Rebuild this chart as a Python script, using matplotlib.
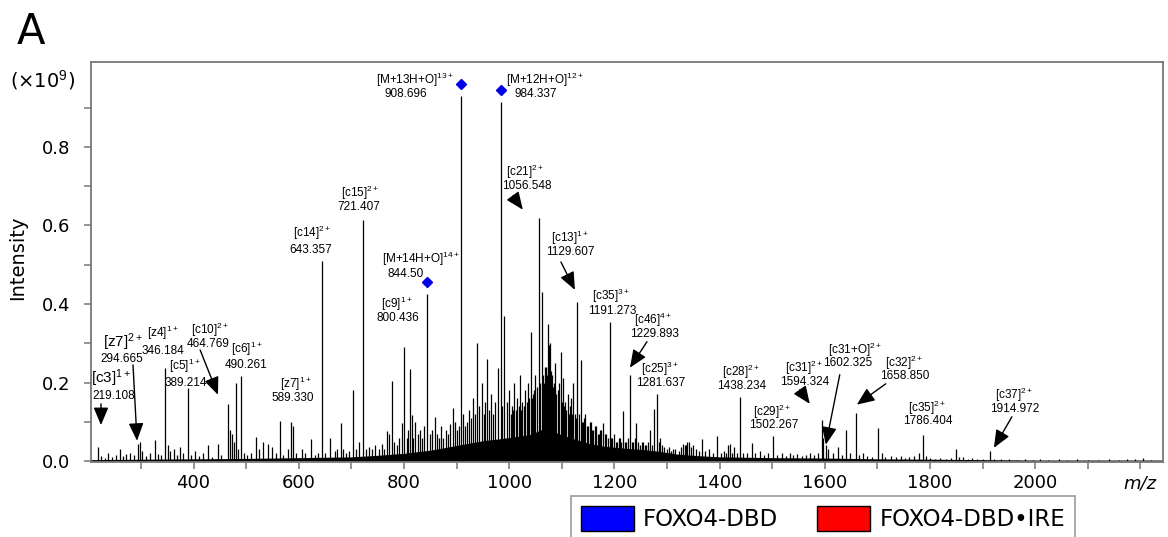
import numpy as np
import matplotlib.pyplot as plt
from matplotlib.patches import Patch

plt.rcParams['font.family'] = 'DejaVu Sans'
plt.rcParams['mathtext.fontset'] = 'custom'
plt.rcParams['mathtext.rm'] = 'Liberation Sans'
plt.rcParams['mathtext.it'] = 'Liberation Sans:italic'
plt.rcParams['mathtext.bf'] = 'Liberation Sans:bold'

# centroided peaks, intensity in units of 1e9 counts
low_mz = [219.108, 224, 231, 237, 245, 252, 260, 266, 272, 279,
          287, 294.665, 298, 302, 310, 318, 326.6, 333, 338, 346.184,
          351, 356, 362, 368, 374, 380, 389.214, 395, 403, 410,
          418, 428, 435, 446, 452, 464.769, 470, 473, 477, 480.5,
          484, 490.261, 495, 502, 510, 518.6, 525, 532, 541, 549,
          556, 564, 570, 580, 586, 589.330, 595, 606, 612, 623,
          630, 636, 643.357, 650, 660, 668, 673, 679.6, 685, 690,
          695, 702.5, 708, 714.5, 721.407, 727, 733, 740, 745, 752,
          758, 763, 767, 771.6, 777.8, 782, 786, 790, 795.6, 800.436,
          805, 808, 811.4, 814.6, 818, 821, 826, 830.4, 835, 838,
          844.50, 849.4]
low_int = [0.035, 0.012, 0.008, 0.02, 0.01, 0.015, 0.03, 0.012, 0.018, 0.022,
           0.015, 0.045, 0.05, 0.025, 0.012, 0.02, 0.055, 0.018, 0.015, 0.238,
           0.04, 0.025, 0.03, 0.015, 0.035, 0.02, 0.187, 0.015, 0.025, 0.012,
           0.02, 0.04, 0.01, 0.045, 0.015, 0.146, 0.08, 0.07, 0.05, 0.2,
           0.03, 0.217, 0.02, 0.015, 0.02, 0.062, 0.03, 0.05, 0.045, 0.035,
           0.02, 0.103, 0.015, 0.03, 0.1, 0.09, 0.02, 0.03, 0.02, 0.057,
           0.015, 0.02, 0.51, 0.02, 0.06, 0.025, 0.03, 0.098, 0.03, 0.02,
           0.025, 0.18, 0.03, 0.05, 0.614, 0.03, 0.035, 0.03, 0.04, 0.03,
           0.045, 0.03, 0.078, 0.07, 0.205, 0.05, 0.04, 0.06, 0.098, 0.291,
           0.06, 0.08, 0.235, 0.118, 0.06, 0.1, 0.07, 0.08, 0.06, 0.09,
           0.426, 0.07]

mid_mz = [853, 858.9, 863, 867, 871, 874.7, 880, 884, 887.5, 892.6,
          897, 901, 905, 908.696, 912, 916, 919, 923, 927, 931,
          935, 939, 943, 948, 952, 955, 958, 962, 966, 970,
          974, 979, 984.337, 987, 990.7, 995, 1000, 1003, 1005, 1008,
          1010, 1013, 1015, 1018, 1020, 1023, 1025, 1028, 1030, 1033,
          1036, 1038, 1041, 1044, 1046, 1048, 1050, 1053, 1056.548, 1059,
          1062, 1064, 1066, 1068, 1070, 1071.5, 1073, 1074.5, 1076, 1078,
          1079.5, 1081, 1083, 1085, 1087, 1088, 1090, 1092, 1095, 1098.5,
          1101, 1103, 1105, 1107, 1109, 1111, 1113, 1115, 1118, 1120,
          1122, 1125, 1127, 1129.607, 1132, 1136, 1138, 1140, 1143, 1145,
          1148, 1150, 1153, 1155, 1158, 1160, 1163, 1165, 1168, 1170,
          1173, 1175, 1179, 1182, 1185, 1188, 1191.273, 1194, 1196, 1200,
          1203, 1205, 1208, 1210, 1213, 1217, 1220, 1222, 1226, 1229.893,
          1233, 1236, 1239, 1242, 1245, 1248, 1252, 1255, 1258, 1260,
          1264, 1267.7, 1271, 1276, 1281.637, 1284, 1286.7, 1290, 1295]
mid_int = [0.08, 0.113, 0.07, 0.06, 0.09, 0.06, 0.08, 0.07, 0.095, 0.136,
           0.1, 0.08, 0.09, 0.929, 0.12, 0.09, 0.1, 0.13, 0.11, 0.16,
           0.12, 0.3, 0.14, 0.2, 0.12, 0.15, 0.26, 0.13, 0.17, 0.12,
           0.15, 0.237, 0.914, 0.14, 0.37, 0.15, 0.18, 0.12, 0.14, 0.13,
           0.2, 0.13, 0.16, 0.14, 0.22, 0.13, 0.15, 0.14, 0.18, 0.15,
           0.2, 0.16, 0.33, 0.16, 0.17, 0.18, 0.22, 0.19, 0.619, 0.2,
           0.43, 0.22, 0.2, 0.24, 0.24, 0.22, 0.35, 0.24, 0.296, 0.3,
           0.23, 0.22, 0.19, 0.2, 0.18, 0.25, 0.17, 0.18, 0.2, 0.278,
           0.15, 0.212, 0.14, 0.15, 0.13, 0.17, 0.12, 0.14, 0.16, 0.12,
           0.2, 0.12, 0.11, 0.405, 0.12, 0.258, 0.1, 0.1, 0.11, 0.12,
           0.09, 0.09, 0.1, 0.1, 0.08, 0.08, 0.09, 0.09, 0.07, 0.07,
           0.08, 0.08, 0.097, 0.07, 0.07, 0.06, 0.355, 0.06, 0.06, 0.07,
           0.05, 0.05, 0.06, 0.06, 0.05, 0.128, 0.05, 0.05, 0.06, 0.22,
           0.05, 0.05, 0.06, 0.097, 0.05, 0.04, 0.05, 0.05, 0.04, 0.04,
           0.05, 0.08, 0.04, 0.133, 0.172, 0.05, 0.06, 0.04, 0.035]

high_mz = [1300, 1304, 1308, 1312, 1316, 1322, 1326, 1330, 1334, 1336,
           1339, 1342, 1346, 1350, 1356, 1361, 1366, 1373, 1380, 1387,
           1394.5, 1402, 1408, 1413, 1416.6, 1420, 1424, 1428, 1433, 1438.234,
           1445, 1453, 1461, 1468, 1477, 1485, 1492, 1502.267, 1510, 1518,
           1526, 1533, 1540, 1548, 1556, 1565, 1572, 1580, 1587, 1594.324,
           1597, 1602.325, 1607, 1615, 1624.5, 1632, 1640, 1648, 1658.850, 1666,
           1673, 1680, 1690, 1700.5, 1708, 1715, 1725, 1735, 1745, 1752,
           1760, 1770, 1780, 1786.404, 1792, 1800, 1810, 1820, 1830, 1840,
           1850, 1856, 1863, 1872, 1880, 1890, 1900, 1914.972, 1922, 1935,
           1950, 1965, 1980, 1995, 2010, 2025, 2045, 2060, 2080, 2100,
           2120, 2140, 2160, 2174, 2190, 2205, 2220]
high_int = [0.03, 0.035, 0.025, 0.03, 0.03, 0.025, 0.035, 0.045, 0.04, 0.04,
            0.05, 0.05, 0.035, 0.04, 0.03, 0.025, 0.057, 0.025, 0.03, 0.02,
            0.065, 0.02, 0.025, 0.02, 0.04, 0.045, 0.02, 0.035, 0.02, 0.164,
            0.02, 0.02, 0.047, 0.02, 0.025, 0.015, 0.02, 0.065, 0.015, 0.02,
            0.012, 0.02, 0.015, 0.018, 0.012, 0.015, 0.02, 0.015, 0.02, 0.105,
            0.06, 0.04, 0.03, 0.02, 0.037, 0.015, 0.08, 0.02, 0.123, 0.015,
            0.02, 0.012, 0.01, 0.085, 0.02, 0.01, 0.012, 0.01, 0.012, 0.008,
            0.01, 0.012, 0.02, 0.067, 0.012, 0.008, 0.006, 0.008, 0.006, 0.008,
            0.031, 0.01, 0.01, 0.006, 0.008, 0.005, 0.006, 0.025, 0.006, 0.005,
            0.006, 0.004, 0.005, 0.004, 0.006, 0.004, 0.005, 0.004, 0.005, 0.004,
            0.004, 0.005, 0.004, 0.006, 0.005, 0.008, 0.004]

# unresolved background under the peaks
bg_mz = [205, 300, 400, 500, 600, 700, 750, 800, 850, 900, 950, 1000, 1040,
         1070, 1090, 1120, 1150, 1180, 1220, 1250, 1280, 1320, 1360, 1400,
         1500, 1600, 1700, 1800, 1900, 2000, 2245]
bg_int = [0.004, 0.005, 0.006, 0.007, 0.009, 0.011, 0.015, 0.02, 0.028, 0.04,
          0.052, 0.06, 0.068, 0.085, 0.072, 0.058, 0.046, 0.038, 0.033, 0.03,
          0.026, 0.018, 0.014, 0.011, 0.009, 0.008, 0.006, 0.005, 0.004, 0.003,
          0.003]

# intact FOXO4-DBD charge states (blue diamonds)
intact_mz = [844.50, 908.696, 984.337]

# fragment / intact ion annotations
ion_names = ['[c3]', '[z7]', '[z4]', '[c5]', '[c10]', '[c6]', '[z7]', '[c14]',
             '[c15]', '[c9]', '[M+14H+O]', '[M+13H+O]', '[M+12H+O]', '[c21]',
             '[c13]', '[c35]', '[c46]', '[c25]', '[c28]', '[c29]', '[c31]',
             '[c31+O]', '[c32]', '[c35]', '[c37]']
ion_charges = ['1+', '2+', '1+', '1+', '2+', '1+', '1+', '2+', '2+', '1+', '14+',
               '13+', '12+', '2+', '1+', '3+', '4+', '3+', '2+', '2+', '2+', '2+',
               '2+', '2+', '2+']
ion_values = ['219.108', '294.665', '346.184', '389.214', '464.769', '490.261',
              '589.330', '643.357', '721.407', '800.436', '844.50', '908.696',
              '984.337', '1056.548', '1129.607', '1191.273', '1229.893',
              '1281.637', '1438.234', '1502.267', '1594.324', '1602.325',
              '1658.850', '1786.404', '1914.972']
big_label = [True, True] + [False] * 23

# label placement: ion name line and m/z line
name_pos = [(243, 0.212), (266, 0.304), (341, 0.327), (383.6, 0.243),
            (431, 0.334), (500.6, 0.285), (593.7, 0.197), (626, 0.58),
            (717, 0.683), (786.7, 0.401), (833, 0.515), (821, 0.970),
            (1068, 0.970), (1031, 0.736), (1116.5, 0.569), (1193.5, 0.421),
            (1274, 0.360), (1286.6, 0.235), (1440.5, 0.228), (1500.5, 0.126),
            (1560.4, 0.238), (1657.3, 0.284), (1750.5, 0.25), (1794, 0.136),
            (1960.5, 0.169)]
value_pos = [(248.7, 0.166), (263, 0.261), (341.8, 0.281), (384.6, 0.2),
             (427.4, 0.298), (499.6, 0.246), (589, 0.161), (623, 0.538),
             (714, 0.648), (788.6, 0.365), (802.8, 0.477), (803.8, 0.935),
             (1051, 0.935), (1033.8, 0.700), (1115.5, 0.533), (1195.4, 0.383),
             (1277, 0.324), (1287.6, 0.2), (1442.4, 0.192), (1503.4, 0.093),
             (1562.3, 0.202), (1643, 0.25), (1752.4, 0.217), (1795, 0.103),
             (1961.5, 0.133)]

# arrows pointing at crowded peaks: (tail, head)
arrows = [((224, 0.146), (224, 0.092)),
          ((284.9, 0.245), (292.5, 0.052)),
          ((412.5, 0.283), (446.4, 0.169)),
          ((1007, 0.675), (1026, 0.640)),
          ((1098.4, 0.507), (1125, 0.436)),
          ((1262, 0.304), (1229.6, 0.238)),
          ((1552.5, 0.182), (1571.5, 0.146)),
          ((1628.5, 0.220), (1602, 0.042)),
          ((1716, 0.197), (1661, 0.144)),
          ((1955.8, 0.113), (1921.6, 0.034))]

mz = np.array(low_mz + mid_mz + high_mz)
inten = np.array(low_int + mid_int + high_int)

fig = plt.figure(figsize=(11.68, 5.37), dpi=100)
ax = fig.add_axes([0.0779, 0.1397, 0.9178, 0.7449])

ax.fill_between(bg_mz, 0, bg_int, color='black', lw=0)
ax.vlines(mz, 0, inten, color='black', lw=0.9)

intact_h = np.array([inten[np.argmin(abs(mz - m))] for m in intact_mz])
ax.plot(intact_mz, intact_h + 0.03, 'D', color='#0000e6', ms=5.5,
        zorder=5, clip_on=False)

lab_font = 'Liberation Sans'
for name, ch, val, big, (nx_, ny_), (vx, vy) in zip(ion_names, ion_charges,
                                                    ion_values, big_label,
                                                    name_pos, value_pos):
    ax.text(nx_, ny_, r'%s$^{\mathregular{%s}}$' % (name, ch), ha='center',
            va='center', fontsize=11 if big else 8.5, family=lab_font)
    ax.text(vx, vy, val, ha='center', va='center', fontsize=8.5, family=lab_font)

for tail, head in arrows:
    ax.annotate('', xy=head, xytext=tail,
                arrowprops=dict(arrowstyle='-|>,head_length=0.9,head_width=0.38',
                                mutation_scale=12, color='black', lw=1,
                                shrinkA=0, shrinkB=0))

ax.set_xlim(205, 2243)
ax.set_ylim(-0.002, 1.016)

xt = list(range(400, 2201, 200))
ax.set_xticks(xt)
ax.set_xticklabels([str(v) for v in xt[:-1]] + ['m/z'])
ax.get_xticklabels()[-1].set_style('italic')
ax.set_xticks(range(300, 2201, 200), minor=True)
ax.set_yticks([0.0, 0.2, 0.4, 0.6, 0.8])
ax.set_yticklabels(['0.0', '0.2', '0.4', '0.6', '0.8'])
ax.set_yticks([0.1, 0.3, 0.5, 0.7, 0.9], minor=True)

for sp in ax.spines.values():
    sp.set_color('#777777')
    sp.set_linewidth(1.3)
ax.tick_params(which='both', direction='out', color='#777777', width=1.1,
               length=5, labelsize=13)
ax.tick_params(axis='x', which='major', pad=4)
ax.tick_params(axis='y', which='major', pad=10)

fig.text(18 / 1168, 1 - 258 / 537, 'Intensity', rotation=90, ha='center',
         va='center', fontsize=14)
fig.text(42 / 1168, 1 - 80 / 537, r'(×10$^{9}$)', ha='center', va='center',
         fontsize=14)
fig.text(31 / 1168, 1 - 32 / 537, 'A', ha='center', va='center', fontsize=30)

# legend box runs off the bottom edge of the figure
handles = [Patch(facecolor='#0000ff', edgecolor='black', lw=1),
           Patch(facecolor='#ff0000', edgecolor='black', lw=1)]
leg = fig.legend(handles, ['FOXO4-DBD', 'FOXO4-DBD\u2022IRE'], loc='upper left',
                 bbox_to_anchor=(571 / 1168, 1 - 496 / 537), ncol=2,
                 fontsize=16.5, fancybox=False, edgecolor='#808080',
                 borderaxespad=0, handlelength=2.3, handleheight=1.25,
                 handletextpad=0.4, columnspacing=1.7, borderpad=0.45)
leg.get_frame().set_linewidth(1.2)

fig.savefig('out.png', dpi=100)
